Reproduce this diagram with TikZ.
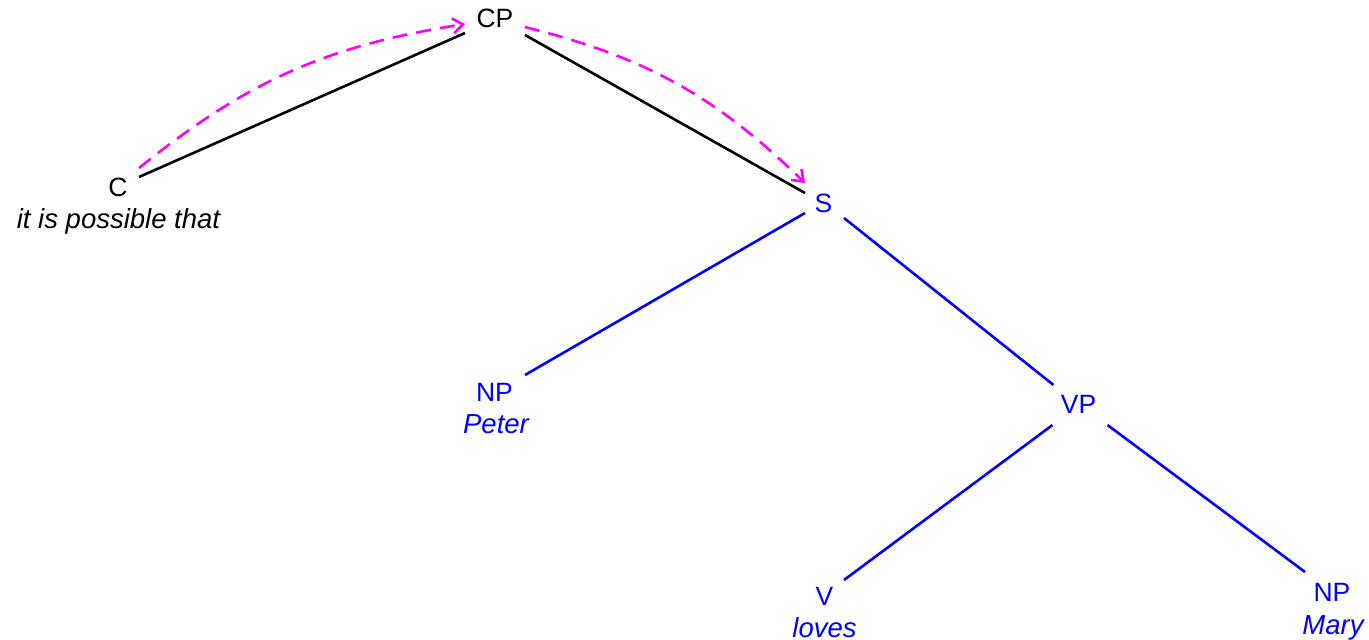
\documentclass[tikz,border=0pt]{standalone}
\usepackage{fontspec}
\setmainfont{Liberation Sans}
\usetikzlibrary{calc,arrows.meta}
\definecolor{movecol}{RGB}{255,0,255}
\definecolor{subcol}{RGB}{0,0,255}
\begin{document}
\begin{tikzpicture}[x=1pt,y=-1pt,
  cat/.style={inner sep=0pt, font=\fontsize{26.5}{31}\selectfont},
  word/.style={inner sep=0pt, anchor=base, font=\fontsize{27.5}{32}\selectfont\itshape},
  branch/.style={line width=2.6pt},
  move/.style={movecol, line width=2.6pt, dash pattern=on 15pt off 9pt,
    -{Straight Barb[length=10pt,width=15pt]}, bend left=15}]
\useasboundingbox (0,0) rectangle (1369,640);

% upper part of the tree (black)
\node[cat] (cp) at (495,18.5) {CP};
\node[cat] (c) at (118,187) {C};
\node[word] (cw) at (118.5,228) {it is possible that};

% embedded clause (blue)
\begin{scope}[subcol]
\node[cat] (s) at (823.5,203) {S};
\node[cat] (np1) at (494.5,392) {NP};
\node[word] (np1w) at (496,433) {Peter};
\node[cat] (vp) at (1078.5,404) {VP};
\node[cat] (v) at (824.5,596) {V};
\node[word] (vw) at (824.5,637) {loves};
\node[cat] (np2) at (1332,592) {NP};
\node[word] (np2w) at (1333,634) {Mary};
\end{scope}

% branches
\draw[branch] ($(c)+(21,-10)$) -- ($(cp)+(-30,14.5)$);
\draw[branch] ($(cp)+(30,16.5)$) -- ($(s)+(-18.5,-10)$);
\draw[branch,subcol] ($(s)+(-18.5,10)$) -- ($(np1)+(30.5,-17)$);
\draw[branch,subcol] ($(s)+(20.5,15)$) -- ($(vp)+(-25,-19)$);
\draw[branch,subcol] ($(vp)+(-26,21)$) -- ($(v)+(19.5,-16)$);
\draw[branch,subcol] ($(vp)+(29,21)$) -- ($(np2)+(-27,-20)$);

% movement arrows
\draw[move] ($(c)+(21,-19)$) to ($(cp)+(-30,5.5)$);
\draw[move] ($(cp)+(30,8.5)$) to ($(s)+(-18.5,-20)$);
\end{tikzpicture}
\end{document}
